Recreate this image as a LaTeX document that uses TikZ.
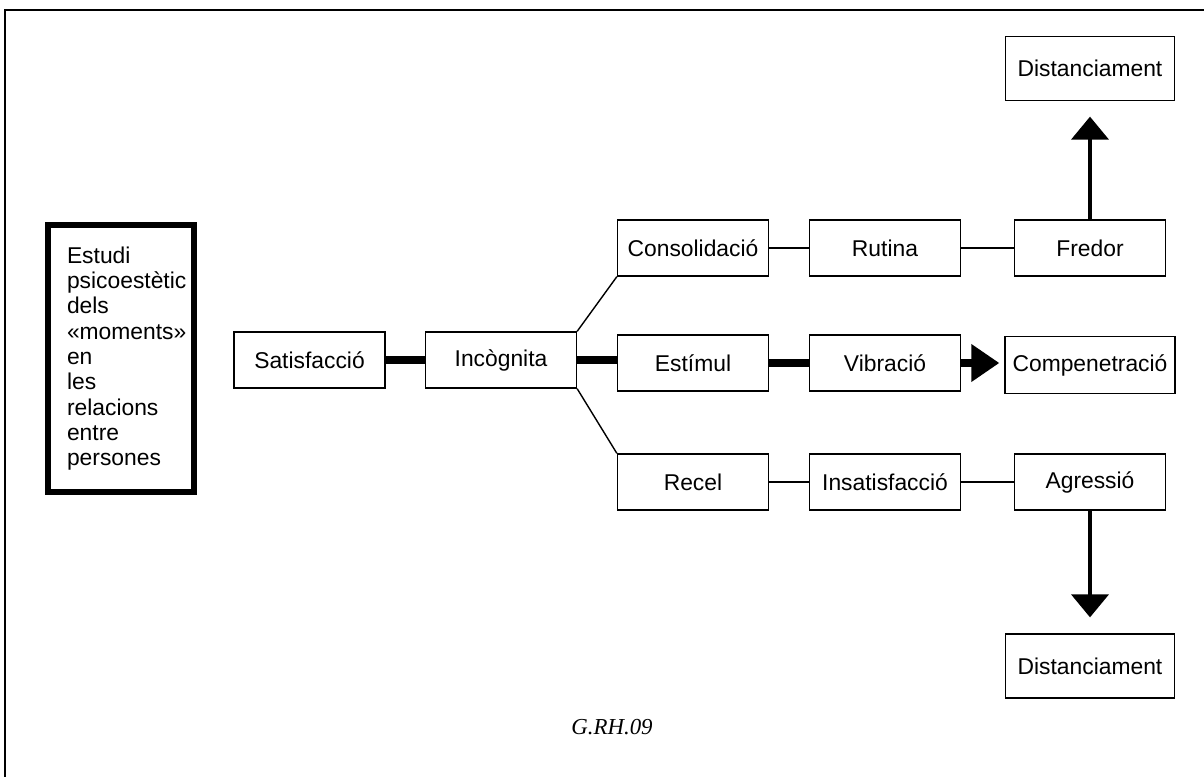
\documentclass[tikz,border=0pt]{standalone}
\usepackage{fontspec}
\setmainfont{Liberation Sans}
\newfontfamily\capfont{Liberation Serif}
\usetikzlibrary{arrows.meta}
\hyphenpenalty=10000\relax
\tikzset{
  box/.style={draw, line width=0.75pt, minimum width=3.02cm, minimum height=1.12cm, inner sep=0pt,
    font={\fontsize{13}{15}\selectfont}},
  widebox/.style={box, minimum width=3.4cm, minimum height=1.14cm},
  distbox/.style={box, minimum width=3.38cm, minimum height=1.28cm},
  titlebox/.style={draw, line width=3.4pt, minimum width=2.92cm, minimum height=5.34cm, inner sep=0pt,
    text width=2.16cm, align=left, font={\fontsize{13}{14.4}\selectfont}},
  thin/.style={line width=0.8pt},
  thick/.style={line width=4.5pt},
  uparrow/.style={line width=2.3pt, -{Triangle[length=0.46cm, width=0.74cm]}},
  sidearrow/.style={line width=4.5pt, -{Triangle[length=0.56cm, width=0.72cm]}},
  frame/.style={line width=1.1pt},
}
\begin{document}
\begin{tikzpicture}[x=0.02cm, y=-0.02cm]
\useasboundingbox (0,0) rectangle (1204,777);
\draw[frame] (5,777) -- (5,10) -- (1204,10);

\node[titlebox] (title) at (121,358.5) {\hyphenpenalty=10000\relax Estudi\\ psicoestètic\\ dels\\ «moments»\\ en\\ les\\ relacions\\ entre\\ persones};

\node[box] (sat) at (309.5,360) {Satisfacció};
\node[box] (inc) at (501,360) {Incògnita};

\node[box] (cons) at (693,248) {Consolidació};
\node[box] (rut) at (885,248) {Rutina};
\node[box] (fred) at (1090,248) {Fredor};
\node[distbox] (dist1) at (1090,68.5) {Distanciament};

\node[box] (est) at (693,363) {Estímul};
\node[box] (vib) at (885,363) {Vibració};
\node[widebox] (comp) at (1090,365) {Compenetració};

\node[box] (rec) at (693,482) {Recel};
\node[box] (insat) at (885,482) {Insatisfacció};
\node[box] (agr) at (1090,482) {Agressió};
\node[distbox] (dist2) at (1090,666) {Distanciament};

\node[font={\capfont\itshape\fontsize{13}{15}\selectfont}] (cap) at (612,727) {G.RH.09};

\draw[thick] (sat.east) -- (inc.west);
\draw[thick] (inc.east) -- (inc.east -| est.west);
\draw[thin] (inc.north east) -- (cons.south west);
\draw[thin] (inc.south east) -- (rec.north west);
\draw[thin] (cons) -- (rut);
\draw[thin] (rut) -- (fred);
\draw[thick] (est) -- (vib);
\draw[sidearrow, shorten >=0.1cm] (vib.east) -- (vib.east -| comp.west);
\draw[thin] (rec) -- (insat);
\draw[thin] (insat) -- (agr);
\draw[uparrow, shorten >=0.31cm] (fred.north) -- (dist1.south);
\draw[uparrow, shorten >=0.32cm] (agr.south) -- (dist2.north);
\end{tikzpicture}
\end{document}
